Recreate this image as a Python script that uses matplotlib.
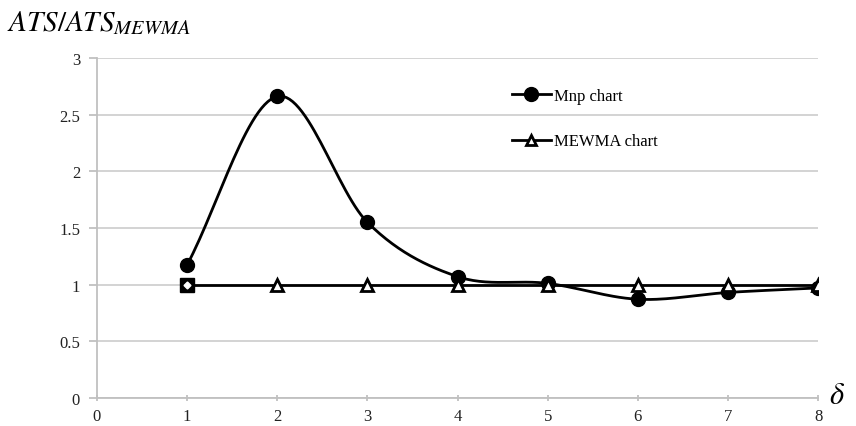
import numpy as np
import matplotlib.pyplot as plt

# data
delta = [1, 2, 3, 4, 5, 6, 7, 8]
mnp = [1.17, 2.66, 1.55, 1.07, 1.01, 0.87, 0.93, 0.97]
mewma = [1, 1, 1, 1, 1, 1, 1, 1]
xticks = [0, 1, 2, 3, 4, 5, 6, 7, 8]
yticks = [0, 0.5, 1, 1.5, 2, 2.5, 3]


def smooth(x, y, n=30):
    """Catmull-Rom curve through the points (like Excel's smoothed line)"""
    x = np.asarray(x, float)
    y = np.asarray(y, float)
    px = np.concatenate([[2 * x[0] - x[1]], x, [2 * x[-1] - x[-2]]])
    py = np.concatenate([[2 * y[0] - y[1]], y, [2 * y[-1] - y[-2]]])
    t = np.linspace(0, 1, n)
    xs, ys = [], []
    for i in range(1, len(px) - 2):
        for p, out in ((px, xs), (py, ys)):
            p0, p1, p2, p3 = p[i - 1], p[i], p[i + 1], p[i + 2]
            out.append(0.5 * (2 * p1 + (-p0 + p2) * t
                              + (2 * p0 - 5 * p1 + 4 * p2 - p3) * t ** 2
                              + (-p0 + 3 * p1 - 3 * p2 + p3) * t ** 3))
    return np.concatenate(xs), np.concatenate(ys)


plt.rcParams['font.family'] = ['Liberation Serif', 'DejaVu Serif']

fig = plt.figure(figsize=(8.56, 4.27), dpi=100)
ax = fig.add_axes([0.113, 0.066, 0.843, 0.796])

# Mnp chart: smoothed line + circles
sx, sy = smooth(delta, mnp)
ax.plot(sx, sy, color='black', lw=2, zorder=3)
ax.plot(delta, mnp, 'o', color='black', ms=10, zorder=4)
ax.plot([], [], '-o', color='black', lw=2, ms=10, label='Mnp chart')

# MEWMA chart: straight line + open triangles
ax.plot(delta, mewma, '-', color='black', lw=2, zorder=3)
ax.plot(delta[1:], mewma[1:], '^', color='black', mfc='white', mew=2,
        ms=8, zorder=5)
ax.plot(delta[0], mewma[0], 's', color='black', ms=10, zorder=5)
ax.plot(delta[0], mewma[0], 'D', color='white', ms=3.5, zorder=6)
ax.plot([], [], '-^', color='black', mfc='white', mew=2, lw=2, ms=7,
        label='MEWMA chart')

ax.set_xlim(0, 8)
ax.set_ylim(0, 3)
ax.set_xticks(xticks)
ax.set_yticks(yticks)
ax.set_yticklabels(['0', '0.5', '1', '1.5', '2', '2.5', '3'])
ax.grid(axis='y', color='#d0d0d0', lw=1.3)
ax.set_axisbelow(True)
for s in ['top', 'right']:
    ax.spines[s].set_visible(False)
for s in ['left', 'bottom']:
    ax.spines[s].set_color('#c0c0c0')
    ax.spines[s].set_linewidth(1.3)
ax.tick_params(axis='y', length=6, color='#c0c0c0', width=1.3,
               labelsize=12, labelcolor='#222222', pad=6)
ax.tick_params(axis='x', length=4, direction='inout', color='#c0c0c0',
               width=1.3, labelsize=12, labelcolor='#222222', pad=5)

ax.legend(loc='upper left', bbox_to_anchor=(0.555, 0.955), frameon=False,
          fontsize=12, labelspacing=1.75, handlelength=2.3, handletextpad=0.2)

fig.text(0.008, 0.93, r'$ATS/ATS_{MEWMA}$', fontsize=21,
         math_fontfamily='stix')
fig.text(0.968, 0.055, r'$\delta$', fontsize=22, math_fontfamily='stix')

plt.savefig('out.png', dpi=100)
